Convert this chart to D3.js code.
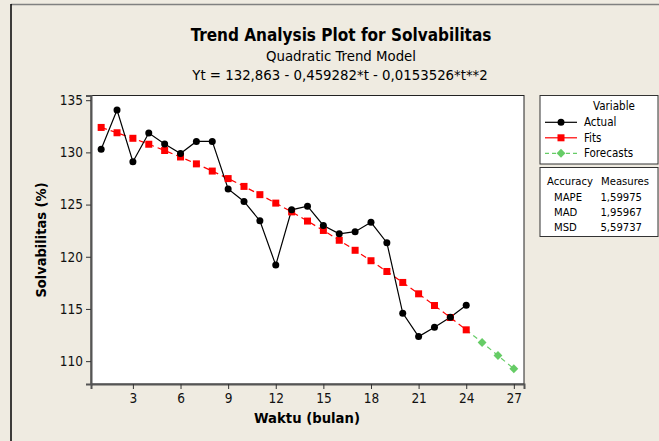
<!DOCTYPE html>
<html>
<head>
<meta charset="utf-8">
<script src="https://cdn.jsdelivr.net/npm/d3@7"></script>
<style>
  body { margin: 0; background: #efebe1; }
  svg { display: block; font-family: "DejaVu Sans Condensed", "DejaVu Sans", sans-serif; }
</style>
</head>
<body>
<div id="chart"></div>
<script>
// Data
const months = d3.range(1, 25);
const actual = [130.3, 134.05, 129.1, 131.85, 130.8, 129.9, 131.05, 131.05, 126.5, 125.3, 123.45, 119.2,
                124.5, 124.85, 123.0, 122.2, 122.4, 123.3, 121.35, 114.6, 112.35, 113.25, 114.2, 115.35];
const fits = [132.39, 131.88, 131.35, 130.78, 130.18, 129.56, 128.9, 128.21, 127.49, 126.74, 125.95, 125.14,
              124.3, 123.42, 122.52, 121.58, 120.62, 119.62, 118.59, 117.54, 116.45, 115.33, 114.18, 113.0];
const forecastMonths = [24, 25, 26, 27];
const forecasts = [113.0, 111.79, 110.54, 109.27];
const xTicks = [3, 6, 9, 12, 15, 18, 21, 24, 27];
const yTicks = [110, 115, 120, 125, 130, 135];
const accuracy = [["MAPE", "1,59975"], ["MAD", "1,95967"], ["MSD", "5,59737"]];

const W = 659, H = 441;
const svg = d3.select('#chart').append('svg').attr('width', W).attr('height', H);

// outer frame
svg.append('rect').attr('width', W).attr('height', H).attr('fill', '#efebe1');
svg.append('line').attr('x1', 11).attr('x2', W).attr('y1', 4.5).attr('y2', 4.5)
  .attr('stroke', '#808080').attr('stroke-width', 1.5);
svg.append('line').attr('x1', 11).attr('x2', 11).attr('y1', 4).attr('y2', H)
  .attr('stroke', '#000').attr('stroke-width', 1.5);

// titles
svg.append('text').attr('x', 341).attr('y', 41).attr('text-anchor', 'middle')
  .attr('font-size', 17).attr('font-weight', 'bold').text('Trend Analysis Plot for Solvabilitas');
svg.append('text').attr('x', 341).attr('y', 61).attr('text-anchor', 'middle')
  .attr('font-size', 14.8).text('Quadratic Trend Model');
svg.append('text').attr('x', 340).attr('y', 80).attr('text-anchor', 'middle')
  .attr('font-size', 14.8).text('Yt = 132,863 - 0,459282*t - 0,0153526*t**2');

// plot area
const pLeft = 91, pRight = 524, pTop = 95.5, pBottom = 384;
const x = d3.scaleLinear().domain([0.36, 27.64]).range([pLeft, pRight]);
const y = d3.scaleLinear().domain([107.81, 135.45]).range([pBottom, pTop]);

svg.append('rect').attr('x', pLeft).attr('y', pTop).attr('width', pRight - pLeft).attr('height', pBottom - pTop)
  .attr('fill', '#fff').attr('stroke', '#222').attr('stroke-width', 1);

const xAxis = svg.append('g').attr('transform', `translate(0,${pBottom})`)
  .call(d3.axisBottom(x).tickValues(xTicks).tickSize(5).tickPadding(4));
const yAxis = svg.append('g').attr('transform', `translate(${pLeft},0)`)
  .call(d3.axisLeft(y).tickValues(yTicks).tickSize(5).tickPadding(3));
[xAxis, yAxis].forEach(a => {
  a.select('.domain').attr('stroke', '#555').attr('stroke-width', 2);
  a.selectAll('.tick line').attr('stroke', '#333');
  a.selectAll('.tick text').attr('font-size', 13.5).attr('fill', '#111')
    .attr('font-family', '"DejaVu Sans Condensed", "DejaVu Sans", sans-serif');
});

svg.append('text').attr('x', 307).attr('y', 423).attr('text-anchor', 'middle')
  .attr('font-size', 14.7).attr('font-weight', 'bold').text('Waktu (bulan)');
svg.append('text').attr('transform', 'translate(46,240) rotate(-90)').attr('text-anchor', 'middle')
  .attr('font-size', 14.5).attr('font-weight', 'bold').text('Solvabilitas (%)');

// series
const line = d3.line();
const fitPts = months.map((m, i) => [x(m), y(fits[i])]);
const fcPts = forecastMonths.map((m, i) => [x(m), y(forecasts[i])]);
const actPts = months.map((m, i) => [x(m), y(actual[i])]);

svg.append('path').attr('d', line(fitPts)).attr('fill', 'none')
  .attr('stroke', '#ff0000').attr('stroke-width', 1.2).attr('stroke-dasharray', '6,4');
svg.append('path').attr('d', line(fcPts)).attr('fill', 'none')
  .attr('stroke', '#66cc66').attr('stroke-width', 1.2).attr('stroke-dasharray', '5,4');
svg.append('path').attr('d', line(actPts)).attr('fill', 'none')
  .attr('stroke', '#000').attr('stroke-width', 1.2);

svg.append('g').selectAll('rect').data(fitPts).join('rect')
  .attr('x', d => d[0] - 3.5).attr('y', d => d[1] - 3.5).attr('width', 7).attr('height', 7)
  .attr('fill', '#ff0000');
const diamond = d3.symbol().type(d3.symbolDiamond2).size(50);
svg.append('g').selectAll('path').data(fcPts.slice(1)).join('path')
  .attr('transform', d => `translate(${d[0]},${d[1]})`).attr('d', diamond).attr('fill', '#66cc66');
svg.append('g').selectAll('circle').data(actPts).join('circle')
  .attr('cx', d => d[0]).attr('cy', d => d[1]).attr('r', 3.5).attr('fill', '#000');

// legend
const lg = svg.append('g').attr('font-size', 11.5);
lg.append('rect').attr('x', 540).attr('y', 95.5).attr('width', 118).attr('height', 68.5)
  .attr('fill', '#fff').attr('stroke', '#333');
lg.append('text').attr('x', 614).attr('y', 110).attr('text-anchor', 'middle').text('Variable');
const items = [
  { name: 'Actual', color: '#000', dash: null, sym: 'circle' },
  { name: 'Fits', color: '#ff0000', dash: null, sym: 'square' },
  { name: 'Forecasts', color: '#66cc66', dash: '4,3', sym: 'diamond' }
];
items.forEach((it, i) => {
  const yy = 122.3 + i * 15.5;
  lg.append('line').attr('x1', 545).attr('x2', 577).attr('y1', yy).attr('y2', yy)
    .attr('stroke', it.color).attr('stroke-width', 1.2).attr('stroke-dasharray', it.dash);
  if (it.sym === 'circle') lg.append('circle').attr('cx', 561).attr('cy', yy).attr('r', 3.5).attr('fill', it.color);
  if (it.sym === 'square') lg.append('rect').attr('x', 557.5).attr('y', yy - 3.5).attr('width', 7).attr('height', 7).attr('fill', it.color);
  if (it.sym === 'diamond') lg.append('path').attr('transform', `translate(561,${yy})`).attr('d', diamond).attr('fill', it.color);
  lg.append('text').attr('x', 584).attr('y', yy + 4).text(it.name);
});

const acc = svg.append('g').attr('font-size', 11.2);
acc.append('rect').attr('x', 540).attr('y', 167.5).attr('width', 118).attr('height', 69)
  .attr('fill', '#fff').attr('stroke', '#333');
acc.append('text').attr('x', 547).attr('y', 185).text('Accuracy');
acc.append('text').attr('x', 601).attr('y', 185).text('Measures');
accuracy.forEach((r, i) => {
  const yy = 201 + i * 15;
  acc.append('text').attr('x', 554).attr('y', yy).text(r[0]);
  acc.append('text').attr('x', 642).attr('y', yy).attr('text-anchor', 'end').text(r[1]);
});
</script>
</body>
</html>
